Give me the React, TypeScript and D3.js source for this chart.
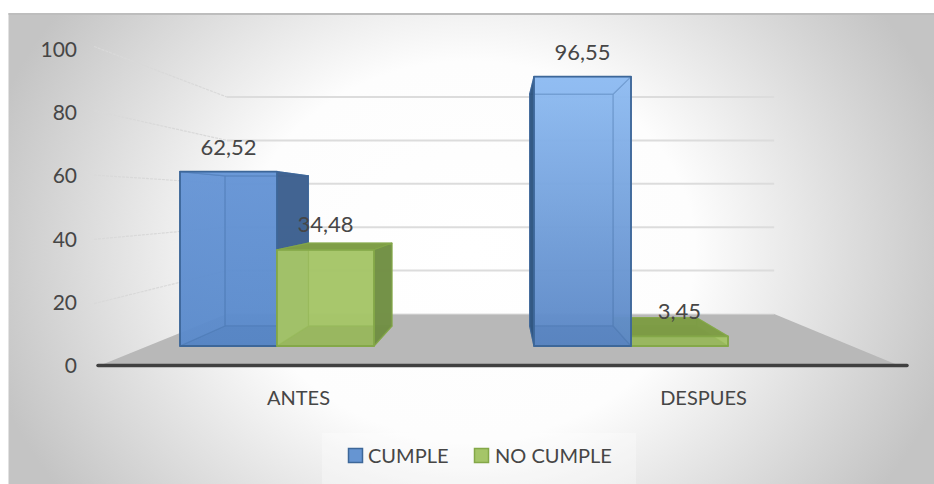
import React from "react";
import * as d3 from "d3";

const categories = ["ANTES", "DESPUES"];
const seriesNames = ["CUMPLE", "NO CUMPLE"];
const cumple = [62.52, 96.55];
const noCumple = [34.48, 3.45];
const valueLabels = [["62,52", "34,48"], ["96,55", "3,45"]];
const ticks = [0, 20, 40, 60, 80, 100];

const W = 934;
const H = 484;
const FONT = "Lato, Carlito, Calibri, sans-serif";
const INK = "#464646";

// Perspective: every point is scaled about the vanishing point by its depth factor.
const VX = 503;
const VY = 202;
const DEPTH = { wall: 0.778, barBack: 0.861, barFront: 1, floorFront: 1.132, wallFront: 1.152 };

const xCat = d3.scaleBand<string>().domain(categories).range([100, 808]);
const xSeries = d3.scaleBand<string>().domain(seriesNames).range([80, 274]);
const yVal = d3.scaleLinear().domain([0, 100]).range([144, -135]);
const yTick = d3.scaleLinear().domain([0, 100]).range([364.5, 48.5]);
const xLabel = d3.scaleBand<string>().domain(categories).range([96, 906]);

const project = (x: number, v: number, s: number): [number, number] => [
  VX + (x - VX) * s,
  VY + yVal(v) * s,
];
const line = d3.line();
const quad = (pts: [number, number][]) => line(pts)! + "Z";

type Palette = {
  edge: string;
  body: string;
  floor: string;
  top: string;
  side: string;
};

const antesBlue: Palette = {
  edge: "#3d6799",
  body: "url(#blueAntes)",
  floor: "#4a7aba",
  top: "#6a9ad8",
  side: "#3f618e",
};
const despuesBlue: Palette = {
  edge: "#3d6799",
  body: "url(#blueDespues)",
  floor: "#4a78b6",
  top: "#8fbcf2",
  side: "#2f557f",
};
const green: Palette = {
  edge: "#84a848",
  body: "#a5c568",
  floor: "#82a24a",
  top: "#7c9b45",
  side: "#718e46",
};

function Bar({ x0, x1, v, p }: { x0: number; x1: number; v: number; p: Palette }) {
  const { barBack: b, barFront: f } = DEPTH;
  const frontPts: [number, number][] = [project(x0, 0, f), project(x1, 0, f), project(x1, v, f), project(x0, v, f)];
  const backPts: [number, number][] = [project(x0, 0, b), project(x1, 0, b), project(x1, v, b), project(x0, v, b)];
  const face = (i: number, j: number) => quad([frontPts[i], frontPts[j], backPts[j], backPts[i]]);
  // The side turned towards the viewer depends on which side of the vanishing point the bar stands.
  const visibleSide = x1 < VX ? face(1, 2) : face(0, 3);
  const hiddenSide = x1 < VX ? face(0, 3) : face(1, 2);
  const inner = { stroke: p.edge, strokeOpacity: 0.75, strokeWidth: 1.2, strokeLinejoin: "round" as const };
  return (
    <g>
      <path d={quad(backPts)} fill={p.body} fillOpacity={0.92} {...inner} />
      <path d={face(0, 1)} fill={p.floor} fillOpacity={0.9} {...inner} />
      <path d={hiddenSide} fill={p.body} fillOpacity={0.9} {...inner} />
      <path d={face(3, 2)} fill={p.top} fillOpacity={0.95} {...inner} />
      <path d={visibleSide} fill={p.side} fillOpacity={0.95} {...inner} />
      <path d={quad(frontPts)} fill={p.body} fillOpacity={0.6} stroke={p.edge} strokeWidth={1.8} strokeLinejoin="round" />
    </g>
  );
}

export default function App() {
  const { wall, floorFront, wallFront } = DEPTH;
  const xLeft = 148;
  const xRight = 851.6;
  const floor = quad([
    project(xLeft, 0, wall),
    project(xRight, 0, wall),
    project(xRight, 0, floorFront),
    project(xLeft, 0, floorFront),
  ]);
  const rows = categories.map((c, i) => [cumple[i], noCumple[i]]);
  return (
    <svg width={W} height={H} style={{ position: "absolute", left: 0, top: 0 }}>
      <defs>
        <radialGradient
          id="plate"
          gradientUnits="userSpaceOnUse"
          cx={0}
          cy={0}
          r={1}
          gradientTransform="translate(470 250) scale(500 420)"
        >
          <stop offset="0" stopColor="#ffffff" />
          <stop offset="0.45" stopColor="#fdfdfd" />
          <stop offset="1" stopColor="#c4c4c4" />
        </radialGradient>
        <linearGradient id="blueAntes" gradientUnits="userSpaceOnUse" x1="0" y1="171" x2="0" y2="346">
          <stop offset="0" stopColor="#6695d6" />
          <stop offset="1" stopColor="#5a8acb" />
        </linearGradient>
        <linearGradient id="blueDespues" gradientUnits="userSpaceOnUse" x1="0" y1="76" x2="0" y2="346">
          <stop offset="0" stopColor="#8fbcf2" />
          <stop offset="1" stopColor="#5c88c6" />
        </linearGradient>
      </defs>

      <rect x={8.5} y={13} width={W - 8.5} height={H - 13} fill="url(#plate)" />
      <line x1={8.5} x2={W} y1={14} y2={14} stroke="#bdbdbd" strokeWidth={2} />

      {/* floor and wall grid */}
      <path d={floor} fill="#b8b8b8" />
      {ticks.map((t) => {
        const [bx, by] = project(xLeft, t, wall);
        const [ex, ey] = project(xRight, t, wall);
        const [fx, fy] = project(xLeft, t, wallFront);
        return (
          <g key={t} fill="none">
            <line x1={bx} y1={by} x2={ex} y2={ey} stroke="#dcdcdc" strokeWidth={t === 0 ? 1 : 2} />
            {t > 0 && (
              <line x1={fx} y1={fy} x2={bx} y2={by} stroke="#d9d9d9" strokeWidth={1.2} strokeDasharray="3 1" />
            )}
          </g>
        );
      })}

      {/* bars: those nearer the vanishing point are painted first */}
      {categories.map((c, i) => {
        const order = i === 0 ? [0, 1] : [1, 0];
        return order.map((j) => {
          const s = seriesNames[j];
          const x0 = xCat(c)! + xSeries(s)!;
          const x1 = x0 + xSeries.bandwidth();
          const palette = j === 1 ? green : i === 0 ? antesBlue : despuesBlue;
          return <Bar key={c + s} x0={x0} x1={x1} v={rows[i][j]} p={palette} />;
        });
      })}

      <line x1={98} x2={907} y1={365.5} y2={365.5} stroke="#404040" strokeWidth={3.5} strokeLinecap="round" />

      {/* value axis */}
      <g fontFamily={FONT} fontSize={21} fill={INK} textAnchor="end" dominantBaseline="central">
        {ticks.map((t) => (
          <text key={t} x={77} y={yTick(t)}>
            {t}
          </text>
        ))}
      </g>

      {/* category axis */}
      <g fontFamily={FONT} fontSize={20} fill={INK} textAnchor="middle" dominantBaseline="central">
        {categories.map((c) => (
          <text key={c} x={xLabel(c)! + xLabel.bandwidth() / 2} y={397}>
            {c}
          </text>
        ))}
      </g>

      {/* value labels, placed above the bar's top face */}
      <g fontFamily={FONT} fontSize={22} fill={INK} textAnchor="middle" dominantBaseline="central">
        {categories.map((c, i) =>
          seriesNames.map((s, j) => {
            const cx = xCat(c)! + xSeries(s)! + xSeries.bandwidth() / 2;
            const [, top] = project(cx, rows[i][j], 1);
            return (
              <text key={c + s} x={cx} y={top - (j === 1 ? 26 : 25)}>
                {valueLabels[i][j]}
              </text>
            );
          })
        )}
      </g>

      {/* legend */}
      <rect x={322} y={433} width={314} height={51} fill="#ffffff" fillOpacity={0.3} />
      <g fontFamily={FONT} fontSize={20} fill={INK} dominantBaseline="central">
        <rect x={348.5} y={448.5} width={14} height={14} fill="#6695d2" stroke="#3d6799" strokeWidth={1.5} />
        <text x={368} y={455}>{seriesNames[0]}</text>
        <rect x={474.5} y={448.5} width={14} height={14} fill="#a5c568" stroke="#84a848" strokeWidth={1.5} />
        <text x={495} y={455}>{seriesNames[1]}</text>
      </g>
    </svg>
  );
}
